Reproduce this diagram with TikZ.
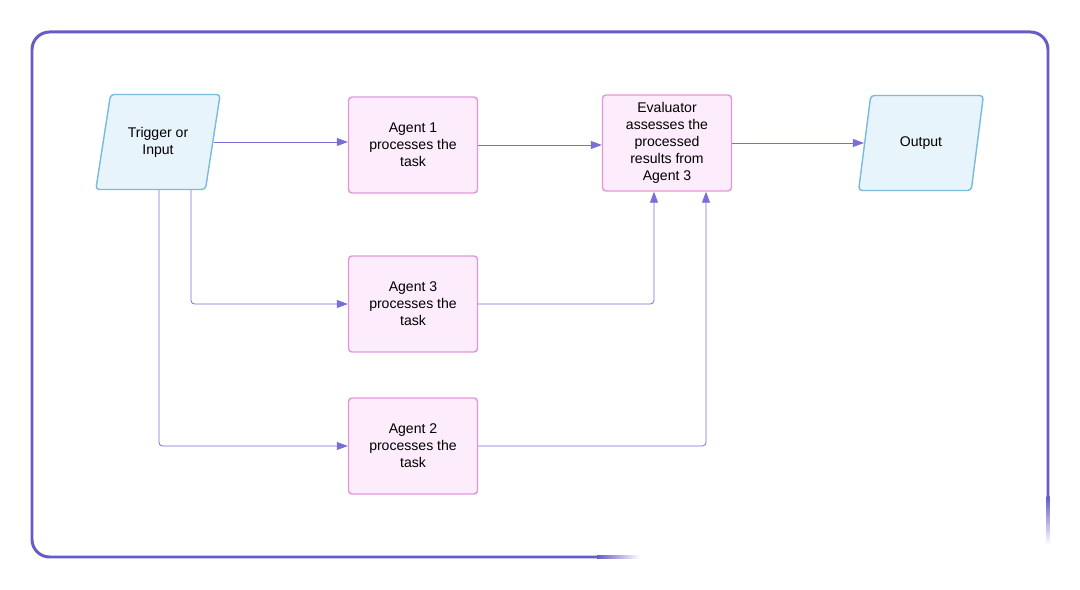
\documentclass[tikz,border=0pt]{standalone}
\usepackage{fontspec}
\setmainfont{Liberation Sans}
\usetikzlibrary{arrows.meta,positioning,calc,shapes.geometric}
\definecolor{FrameBlue}{RGB}{102,92,200}
\definecolor{LinkBlue}{RGB}{120,110,214}
\definecolor{AgentPink}{RGB}{226,150,218}
\definecolor{AgentFill}{RGB}{253,236,251}
\definecolor{IoBlue}{RGB}{122,186,218}
\definecolor{IoFill}{RGB}{232,244,252}

\begin{document}
\begin{tikzpicture}[x=0.02cm,y=-0.02cm,
  font=\fontsize{8}{9.7}\selectfont,
  agent/.style={draw=AgentPink,fill=AgentFill,line width=0.8pt,rounded corners=2pt,
    minimum width=2.58cm,minimum height=1.92cm,align=center,inner sep=1pt},
  io/.style={trapezium,trapezium left angle=75,trapezium right angle=105,trapezium stretches=true,
    draw=IoBlue,fill=IoFill,line width=0.8pt,rounded corners=2pt,
    minimum width=2.5cm,minimum height=1.9cm,align=center},
  conn/.style={draw=LinkBlue,line width=0.45pt,rounded corners=2pt,
    -{Triangle[length=0.22cm,width=0.16cm]}}]
  \useasboundingbox (0,0) rectangle (1080,590);
  % frame, both ends fade out
  \draw[FrameBlue,line width=1.7pt,rounded corners=10pt]
    (598,557) -- (32,557) -- (32,32) -- (1048,32) -- (1048,498);
  \shade[left color=FrameBlue,right color=white] (597,555.5) rectangle (640,558.5);
  \shade[top color=FrameBlue,bottom color=white] (1046.5,497) rectangle (1049.5,545);

  \node[io] (trig) at (158,142) {Trigger or\\Input};
  \node[agent] (ag1) at (413,145) {Agent 1\\processes the\\task};
  \node[agent] (eval) at (667,143) {Evaluator\\assesses the\\processed\\results from\\Agent 3};
  \node[io] (out) at (921,143) {Output};
  \node[agent] (ag3) at (413,304) {Agent 3\\processes the\\task};
  \node[agent] (ag2) at (413,446) {Agent 2\\processes the\\task};

  \draw[conn] (trig.east) -- (trig.east -| ag1.west);
  \draw[conn] (ag1.east) -- (ag1.east -| eval.west);
  \draw[conn] (eval.east) -- (eval.east -| out.west);
  \draw[conn] ($(trig.south)+(33,0)$) |- (ag3.west);
  \draw[conn] ($(trig.south)+(1,0)$) |- (ag2.west);
  \draw[conn] (ag3.east) -| ($(eval.south)+(-13,0)$);
  \draw[conn] (ag2.east) -| ($(eval.south)+(39,0)$);
\end{tikzpicture}
\end{document}
